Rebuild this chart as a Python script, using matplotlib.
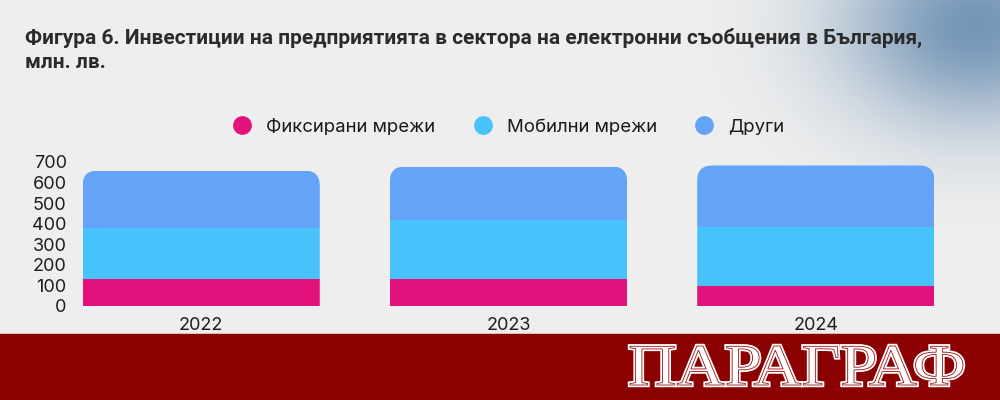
import numpy as np
import matplotlib
matplotlib.use("Agg")
import matplotlib.pyplot as plt
from matplotlib.patches import FancyBboxPatch, PathPatch
from matplotlib.lines import Line2D
from matplotlib.textpath import TextPath
from matplotlib.font_manager import FontProperties
from matplotlib.transforms import Affine2D

# ---- data ----
years = ["2022", "2023", "2024"]
fixed = [129, 129, 98]      # Фиксирани мрежи
mobile = [251, 289, 284]    # Мобилни мрежи
other = [278, 260, 301]     # Други
series_names = ["Фиксирани мрежи", "Мобилни мрежи", "Други"]
yticks = [0, 100, 200, 300, 400, 500, 600, 700]

colors = ["#E1127B", "#48C2FB", "#63A4F8"]
W, H = 1000, 400
fig = plt.figure(figsize=(10, 4), dpi=100)
fig.patch.set_facecolor("#EFEFEF")

# background with soft blue glow (decoration)
bg = fig.add_axes([0, 0, 1, 1], zorder=-10)
yy, xx = np.mgrid[0:H, 0:W]
d2 = ((xx - 975) / 135.0) ** 2 + ((yy - 25) / 100.0) ** 2
glow = 0.85 * np.exp(-d2)
base = np.array([0.937, 0.937, 0.937])
blue = np.array([0.38, 0.53, 0.68])
img = base[None, None, :] * (1 - glow[..., None]) + blue[None, None, :] * glow[..., None]
bg.imshow(img, extent=[0, W, H, 0], aspect="auto")
bg.set_xlim(0, W)
bg.set_ylim(H, 0)
bg.axis("off")
# bottom banner
bg.add_patch(plt.Rectangle((0, 334), W, 66, color="#8B0000", zorder=2))
tp = TextPath((0, 0), "ПАРАГРАФ", size=100,
              prop=FontProperties(family=["Liberation Serif", "DejaVu Serif"]))
ext = tp.get_extents()
target_w, target_h = 333.0, 39.0
sx = target_w / ext.width
sy = target_h / ext.height
tr = Affine2D().translate(-ext.x0, -ext.y0).scale(sx, -sy).translate(630, 385)
logo_path = tr.transform_path(tp)
bg.add_patch(PathPatch(logo_path, facecolor="white", edgecolor="white", lw=3.2, zorder=3))
bg.add_patch(PathPatch(logo_path, facecolor="white", edgecolor="#9a1010", lw=0.6, zorder=4))

# title
title_fam = ["Liberation Sans Narrow", "Roboto", "DejaVu Sans"]
fig.text(25 / W, 1 - 38 / H,
         "Фигура 6. Инвестиции на предприятията в сектора на електронни съобщения в България,",
         fontsize=15, fontweight="bold", family=title_fam, color="#2b2b2b", va="center", ha="left")
fig.text(25 / W, 1 - 63 / H, "млн. лв.", fontsize=15, fontweight="bold", family=title_fam,
         color="#2b2b2b", va="center", ha="left")

# main axes
left_px, right_px = 75, 942
bot_px, top_px = 305.7, 162
ax = fig.add_axes([left_px / W, 1 - bot_px / H, (right_px - left_px) / W, (bot_px - top_px) / H])
ax.patch.set_alpha(0)
x = np.arange(len(years))
xmin = (left_px - 201) / 307.0
ax.set_xlim(xmin, 2 - xmin)
ax.set_ylim(0, 700)
bw = 237 / 307.0

px_per_x = (right_px - left_px) / (2 - 2 * xmin)
px_per_y = (bot_px - top_px) / 700.0
r_px = 15
rx = r_px / px_per_x
ry = r_px / px_per_y

bottoms = np.zeros(len(years))
bar_groups = []
for vals, c in zip([fixed, mobile, other], colors):
    bars = ax.bar(x, vals, width=bw, bottom=bottoms, color=c, linewidth=0)
    bar_groups.append(bars)
    bottoms = bottoms + np.array(vals)

for i in range(len(years)):
    total = bottoms[i]
    clip = FancyBboxPatch((x[i] - bw / 2, -300), bw, total + 300,
                          boxstyle=f"round,pad=0,rounding_size={rx}",
                          mutation_aspect=ry / rx, transform=ax.transData,
                          facecolor="none", edgecolor="none")
    ax.add_patch(clip)
    for bars in bar_groups:
        bars[i].set_clip_path(clip)

tick_fam = ["Inter", "DejaVu Sans"]
ax.set_yticks(yticks)
ax.set_yticklabels([str(t) for t in yticks], fontsize=13, family=tick_fam, color="#1e1e1e")
ax.set_xticks(x)
ax.set_xticklabels(years, fontsize=13, family=tick_fam, color="#1e1e1e")
ax.tick_params(axis="both", length=0)
ax.tick_params(axis="y", pad=6)
ax.tick_params(axis="x", pad=8)
for s in ax.spines.values():
    s.set_visible(False)

handles = [Line2D([0], [0], marker="o", linestyle="none", markersize=12.5,
                  markerfacecolor=c, markeredgecolor=c) for c in colors]
fig.legend(handles, series_names, loc="center", bbox_to_anchor=(504 / W, 1 - 127 / H),
           ncol=3, frameon=False, prop={"family": tick_fam, "size": 13.4},
           handletextpad=0.3, columnspacing=1.55, labelcolor="#1a1a1a")

fig.savefig("out.png", dpi=100, facecolor=fig.get_facecolor())
